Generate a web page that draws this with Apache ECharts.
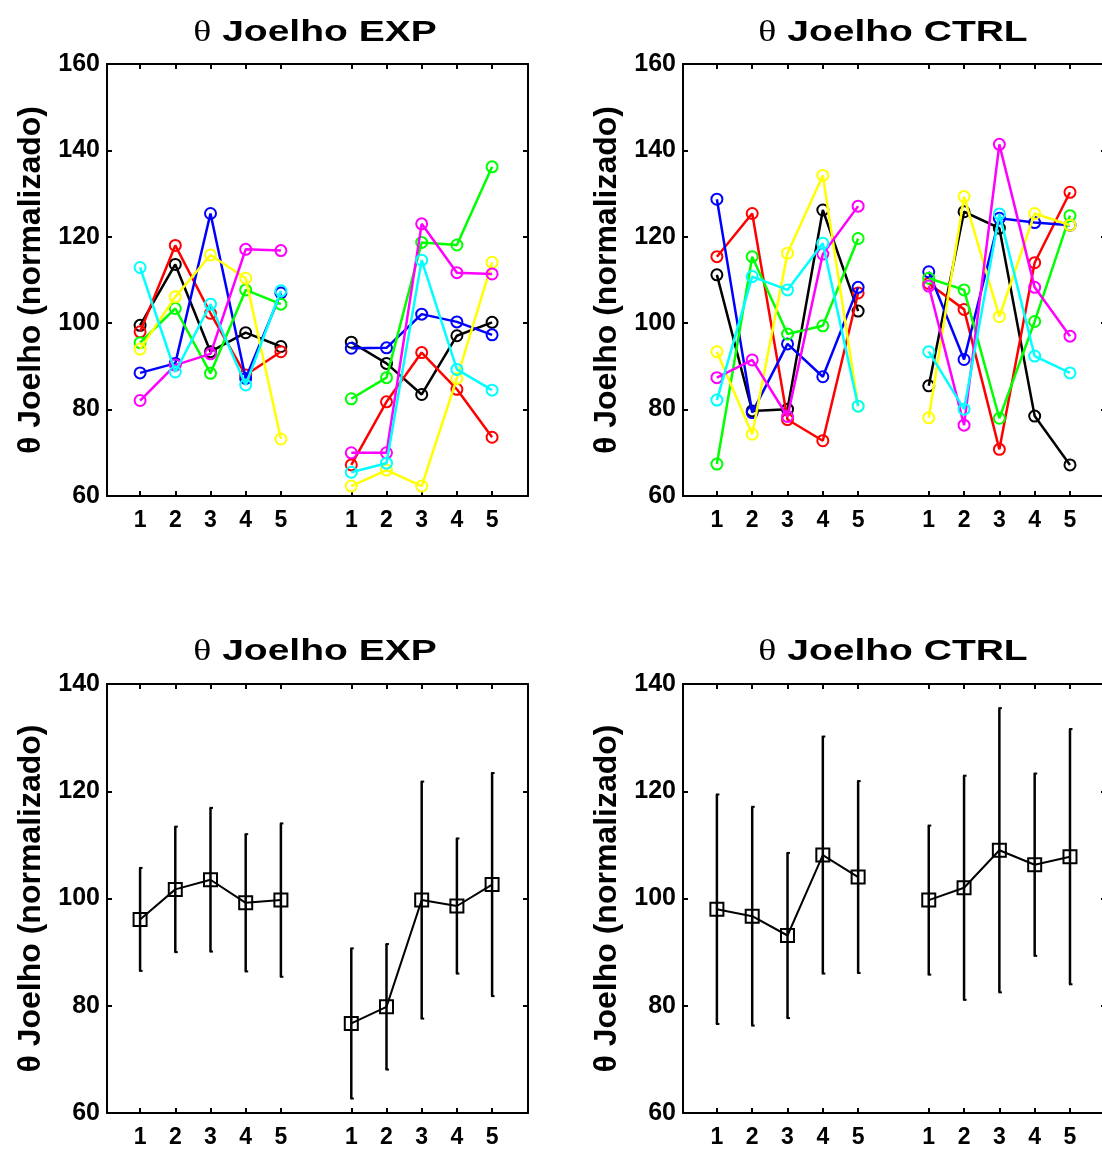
<!DOCTYPE html>
<html>
<head>
<meta charset="utf-8">
<script src="https://cdn.jsdelivr.net/npm/echarts@6/dist/echarts.min.js"></script>
<style>
html,body{margin:0;padding:0;background:#fff;}
#chart{width:1102px;height:1151px;}
</style>
</head>
<body>
<div id="chart"></div>
<script>
// ---- data ----
const xPos = [1, 2, 3, 4, 5, 7, 8, 9, 10, 11];
const xTickLabels = ['1', '2', '3', '4', '5', '1', '2', '3', '4', '5'];
const panelTitles = ['Joelho EXP', 'Joelho CTRL', 'Joelho EXP', 'Joelho CTRL'];
const yAxisName = 'θ Joelho (normalizado)';
const lineColors = ['#000000', '#ff0000', '#0000ff', '#00ff00', '#ffff00', '#ff00ff', '#00ffff'];

// individual subjects, EXP group (5 points left block, 5 points right block)
const expBlack   = [99.5, 113.6, 93.4, 97.8, 94.6,   95.6, 90.7, 83.5, 97.1, 100.2];
const expRed     = [98.0, 118.0, 102.3, 88.0, 93.4,  67.2, 81.8, 93.2, 84.7, 73.6];
const expBlue    = [88.5, 90.7, 125.4, 87.2, 107.0,  94.2, 94.3, 102.1, 100.3, 97.3];
const expGreen   = [95.5, 103.4, 88.4, 107.7, 104.4, 82.5, 87.4, 118.7, 118.1, 136.2];
const expYellow  = [94.0, 106.1, 115.8, 110.4, 73.2, 62.3, 66.0, 62.3, 87.2, 114.1];
const expMagenta = [82.1, 90.3, 92.9, 117.1, 116.8, 70.0, 70.0, 123.0, 111.7, 111.4];
const expCyan    = [112.9, 88.7, 104.4, 85.7, 107.5, 65.5, 67.6, 114.6, 89.3, 84.5];

// individual subjects, CTRL group
const ctrlBlack   = [111.2, 79.7, 80.1, 126.2, 102.8, 85.5, 125.8, 122.0, 78.5, 67.2];
const ctrlRed     = [115.4, 125.4, 77.7, 72.8, 107.0, 109.2, 103.2, 70.8, 114.0, 130.3];
const ctrlBlue    = [128.7, 79.3, 95.2, 87.6, 108.3, 111.9, 91.6, 124.3, 123.3, 122.7];
const ctrlGreen   = [67.4, 115.4, 97.5, 99.4, 119.6, 110.4, 107.7, 78.0, 100.4, 124.9];
const ctrlYellow  = [93.4, 74.3, 116.2, 134.2, 80.8, 78.1, 129.3, 101.5, 125.4, 122.7];
const ctrlMagenta = [87.4, 91.5, 78.4, 116.0, 127.1, 108.6, 76.4, 141.4, 108.3, 97.0];
const ctrlCyan    = [82.2, 110.8, 107.7, 118.5, 80.8, 93.4, 80.1, 125.3, 92.4, 88.5];

// group means and standard deviations
const expMean  = [96.1, 101.7, 103.5, 99.2, 99.7, 76.7, 79.8, 99.7, 98.6, 102.6];
const expSd    = [9.6, 11.7, 13.4, 12.8, 14.3, 14.0, 11.7, 22.1, 12.6, 20.8];
const ctrlMean = [98.0, 96.7, 93.1, 108.1, 104.0, 99.7, 102.0, 109.0, 106.3, 107.8];
const ctrlSd   = [21.4, 20.4, 15.4, 22.1, 17.9, 13.9, 20.9, 26.5, 17.0, 23.8];

const expSubjects = [expBlack, expRed, expBlue, expGreen, expYellow, expMagenta, expCyan];
const ctrlSubjects = [ctrlBlack, ctrlRed, ctrlBlue, ctrlGreen, ctrlYellow, ctrlMagenta, ctrlCyan];

// ---- layout ----
const grids = [
  { left: 107, top: 64, width: 421, height: 432, xmin: 0.06, xmax: 12.02, ymin: 60, ymax: 160 },
  { left: 683, top: 64, width: 423, height: 432, xmin: 0.04, xmax: 12.02, ymin: 60, ymax: 160 },
  { left: 107, top: 684, width: 421, height: 429, xmin: 0.06, xmax: 12.02, ymin: 60, ymax: 140 },
  { left: 683, top: 684, width: 423, height: 429, xmin: 0.04, xmax: 12.02, ymin: 60, ymax: 140 }
];
const titleCenters = [315, 893, 315, 893];
const titleMidY = [33, 33, 652, 652];

const FONT = 'Liberation Sans';
const axisLineStyle = { color: '#000', width: 2 };

const option = {
  animation: false,
  backgroundColor: '#fff',
  graphic: [],
  grid: [],
  xAxis: [],
  yAxis: [],
  series: []
};

grids.forEach((g, i) => {
  option.grid.push({
    left: g.left, top: g.top, width: g.width, height: g.height,
    containLabel: false, outerBoundsMode: 'none'
  });
  option.graphic.push({
    type: 'text',
    x: titleCenters[i], y: titleMidY[i],
    scaleX: 1.3, scaleY: 1,
    silent: true,
    style: {
      text: '{t|θ} ' + panelTitles[i],
      fontFamily: FONT, fontWeight: 'bold', fontSize: 30, fill: '#000',
      align: 'center', verticalAlign: 'middle',
      rich: { t: { fontFamily: 'Liberation Serif', fontWeight: 'normal', fontSize: 29, fill: '#000' } }
    }
  });
  // bottom x axis
  option.xAxis.push({
    gridIndex: i, type: 'value', position: 'bottom', min: g.xmin, max: g.xmax,
    axisLine: { show: true, onZero: false, lineStyle: axisLineStyle },
    axisTick: { show: true, inside: true, length: 5, customValues: xPos, lineStyle: { color: '#000', width: 2 } },
    axisLabel: {
      show: true, customValues: xPos, margin: 13,
      formatter: v => { const k = xPos.indexOf(v); return k >= 0 ? xTickLabels[k] : ''; },
      fontFamily: FONT, fontWeight: 'bold', fontSize: 23, color: '#000'
    },
    splitLine: { show: false }
  });
  // top x axis (frame)
  option.xAxis.push({
    gridIndex: i, type: 'value', position: 'top', min: g.xmin, max: g.xmax,
    axisLine: { show: true, onZero: false, lineStyle: axisLineStyle },
    axisTick: { show: true, inside: true, length: 5, customValues: xPos, lineStyle: { color: '#000', width: 2 } },
    axisLabel: { show: false },
    splitLine: { show: false }
  });
  // left y axis
  option.yAxis.push({
    gridIndex: i, type: 'value', position: 'left', min: g.ymin, max: g.ymax, interval: 20,
    axisLine: { show: true, onZero: false, lineStyle: axisLineStyle },
    axisTick: { show: true, inside: true, length: 5, lineStyle: { color: '#000', width: 2 } },
    axisLabel: { show: true, margin: 7, fontFamily: FONT, fontWeight: 'bold', fontSize: 25, color: '#000' },
    splitLine: { show: false },
    name: yAxisName, nameLocation: 'middle', nameGap: 60, nameRotate: 90,
    nameTextStyle: { fontFamily: FONT, fontWeight: 'bold', fontSize: 32, color: '#000' }
  });
  // right y axis (frame)
  option.yAxis.push({
    gridIndex: i, type: 'value', position: 'right', min: g.ymin, max: g.ymax, interval: 20,
    axisLine: { show: true, onZero: false, lineStyle: axisLineStyle },
    axisTick: { show: true, inside: true, length: 5, lineStyle: { color: '#000', width: 2 } },
    axisLabel: { show: false },
    splitLine: { show: false }
  });
});

function blockData(values, start) {
  const out = [];
  for (let k = start; k < start + 5; k++) out.push([xPos[k], values[k]]);
  return out;
}

function addSubjects(subjects, gi) {
  subjects.forEach((vals, c) => {
    [0, 5].forEach(start => {
      option.series.push({
        type: 'line',
        xAxisIndex: gi * 2, yAxisIndex: gi * 2,
        data: blockData(vals, start),
        symbol: 'circle', symbolSize: 11,
        lineStyle: { color: lineColors[c], width: 2.5 },
        itemStyle: { color: 'rgba(0,0,0,0)', borderColor: lineColors[c], borderWidth: 2 },
        z: 2 + c, silent: true
      });
    });
  });
}
addSubjects(expSubjects, 0);
addSubjects(ctrlSubjects, 1);

function addMeans(mean, sd, gi) {
  const errData = xPos.map((x, k) => [x, mean[k], sd[k]]);
  option.series.push({
    type: 'custom',
    xAxisIndex: gi * 2, yAxisIndex: gi * 2,
    data: errData,
    silent: true, z: 2,
    renderItem: (params, api) => {
      const x = api.value(0), m = api.value(1), s = api.value(2);
      const top = api.coord([x, m + s]);
      const bot = api.coord([x, m - s]);
      return {
        type: 'group',
        children: [
          { type: 'line', shape: { x1: top[0], y1: top[1], x2: bot[0], y2: bot[1] }, style: { stroke: '#000', lineWidth: 2.5 } },
          { type: 'line', shape: { x1: top[0] - 1, y1: top[1], x2: top[0] + 2.5, y2: top[1] }, style: { stroke: '#000', lineWidth: 2 } },
          { type: 'line', shape: { x1: bot[0] - 1, y1: bot[1], x2: bot[0] + 2.5, y2: bot[1] }, style: { stroke: '#000', lineWidth: 2 } }
        ]
      };
    }
  });
  [0, 5].forEach(start => {
    option.series.push({
      type: 'line',
      xAxisIndex: gi * 2, yAxisIndex: gi * 2,
      data: blockData(mean, start),
      symbol: 'rect', symbolSize: 13,
      lineStyle: { color: '#000', width: 2 },
      itemStyle: { color: 'rgba(0,0,0,0)', borderColor: '#000', borderWidth: 2 },
      z: 3, silent: true
    });
  });
}
addMeans(expMean, expSd, 2);
addMeans(ctrlMean, ctrlSd, 3);

const chart = echarts.init(document.getElementById('chart'), null, { renderer: 'canvas' });
chart.setOption(option);
</script>
</body>
</html>
